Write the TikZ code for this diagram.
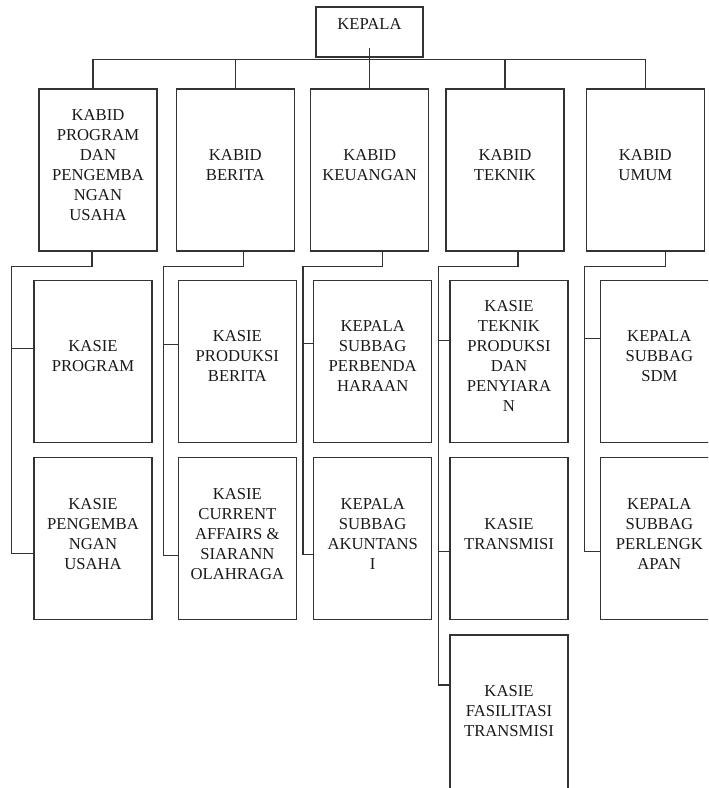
\documentclass[tikz,border=0pt]{standalone}
\usepackage{fontspec}
\setmainfont{Liberation Serif}
\usetikzlibrary{positioning,calc}

\begin{document}
\begin{tikzpicture}[
    x=0.75pt, y=-0.75pt,
    unit/.style={rectangle, draw=black!80, line width=1pt, minimum width=88.5pt, minimum height=121.5pt,
        align=center, inner sep=2pt, text depth=7.5pt, text=black!90, font=\fontsize{12.5}{15}\selectfont},
    wire/.style={draw=black!80, line width=1pt},
]
\useasboundingbox (0,0) rectangle (708,788);
\clip (0,0) rectangle (708,788);

% Head of the office
\node[unit, minimum width=80.25pt, minimum height=37.5pt, text depth=12pt] (kepala) at (369.5,32) {KEPALA};

% Heads of division
\node[unit] (kb1) at (98,170) {KABID\\PROGRAM\\DAN\\PENGEMBA\\NGAN\\USAHA};
\node[unit, right=13.5pt of kb1] (kb2) {KABID\\BERITA};
\node[unit, right=11.25pt of kb2] (kb3) {KABID\\KEUANGAN};
\node[unit, right=12pt of kb3] (kb4) {KABID\\TEKNIK};
\node[unit, right=15.75pt of kb4] (kb5) {KABID\\UMUM};

% Sections under each division
\node[unit, below=21pt of kb1, xshift=-3.75pt] (ks11) {KASIE\\PROGRAM};
\node[unit, below=10.5pt of ks11] (ks12) {KASIE\\PENGEMBA\\NGAN\\USAHA};
\node[unit, below=21pt of kb2, xshift=1.5pt] (ks21) {KASIE\\PRODUKSI\\BERITA};
\node[unit, below=10.5pt of ks21] (ks22) {KASIE\\CURRENT\\AFFAIRS \&\\SIARANN\\OLAHRAGA};
\node[unit, below=21pt of kb3, xshift=2.25pt] (ks31) {KEPALA\\SUBBAG\\PERBENDA\\HARAAN};
\node[unit, below=10.5pt of ks31] (ks32) {KEPALA\\SUBBAG\\AKUNTANS\\I};
\node[unit, below=21pt of kb4, xshift=3pt] (ks41) {KASIE\\TEKNIK\\PRODUKSI\\DAN\\PENYIARA\\N};
\node[unit, below=10.5pt of ks41] (ks42) {KASIE\\TRANSMISI};
\node[unit, below=10.5pt of ks42] (ks43) {KASIE\\FASILITASI\\TRANSMISI};
\node[unit, below=21pt of kb5, xshift=10.5pt] (ks51) {KEPALA\\SUBBAG\\SDM};
\node[unit, below=10.5pt of ks51] (ks52) {KEPALA\\SUBBAG\\PERLENGK\\APAN};

% Bus from KEPALA to the divisions
\coordinate (bus) at ($(kepala.south)+(0,2)$);
\draw[wire] ($(kb1.north)+(-5,0)$) |- (bus) -| (kb5.north);
\foreach \c in {2,4}
    \draw[wire] (kb\c.north) -- (kb\c.north |- bus);
\draw[wire] (kb3.north) -- ($(kb3.north |- kepala.south)+(0,-10)$);

% Trunks down the left of each column
\foreach \c/\last/\dx/\tx/\ly in {1/2/-6/22/15, 2/2/8/14/17, 3/2/13/10/16, 4/3/13/11/-31, 5/2/20/15/13}
    \draw[wire] ($(kb\c.south)+(\dx,0)$) -- ++(0,15) -| ($(ks\c\last.west)+(-\tx,\ly)$) -- ($(ks\c\last.west)+(0,\ly)$);
\foreach \n/\tx/\dy in {11/22/-13, 21/14/-17, 31/10/-18, 41/11/-21, 42/11/13, 51/15/-23}
    \draw[wire] ($(ks\n.west)+(-\tx,\dy)$) -- ($(ks\n.west)+(0,\dy)$);

\end{tikzpicture}
\end{document}
